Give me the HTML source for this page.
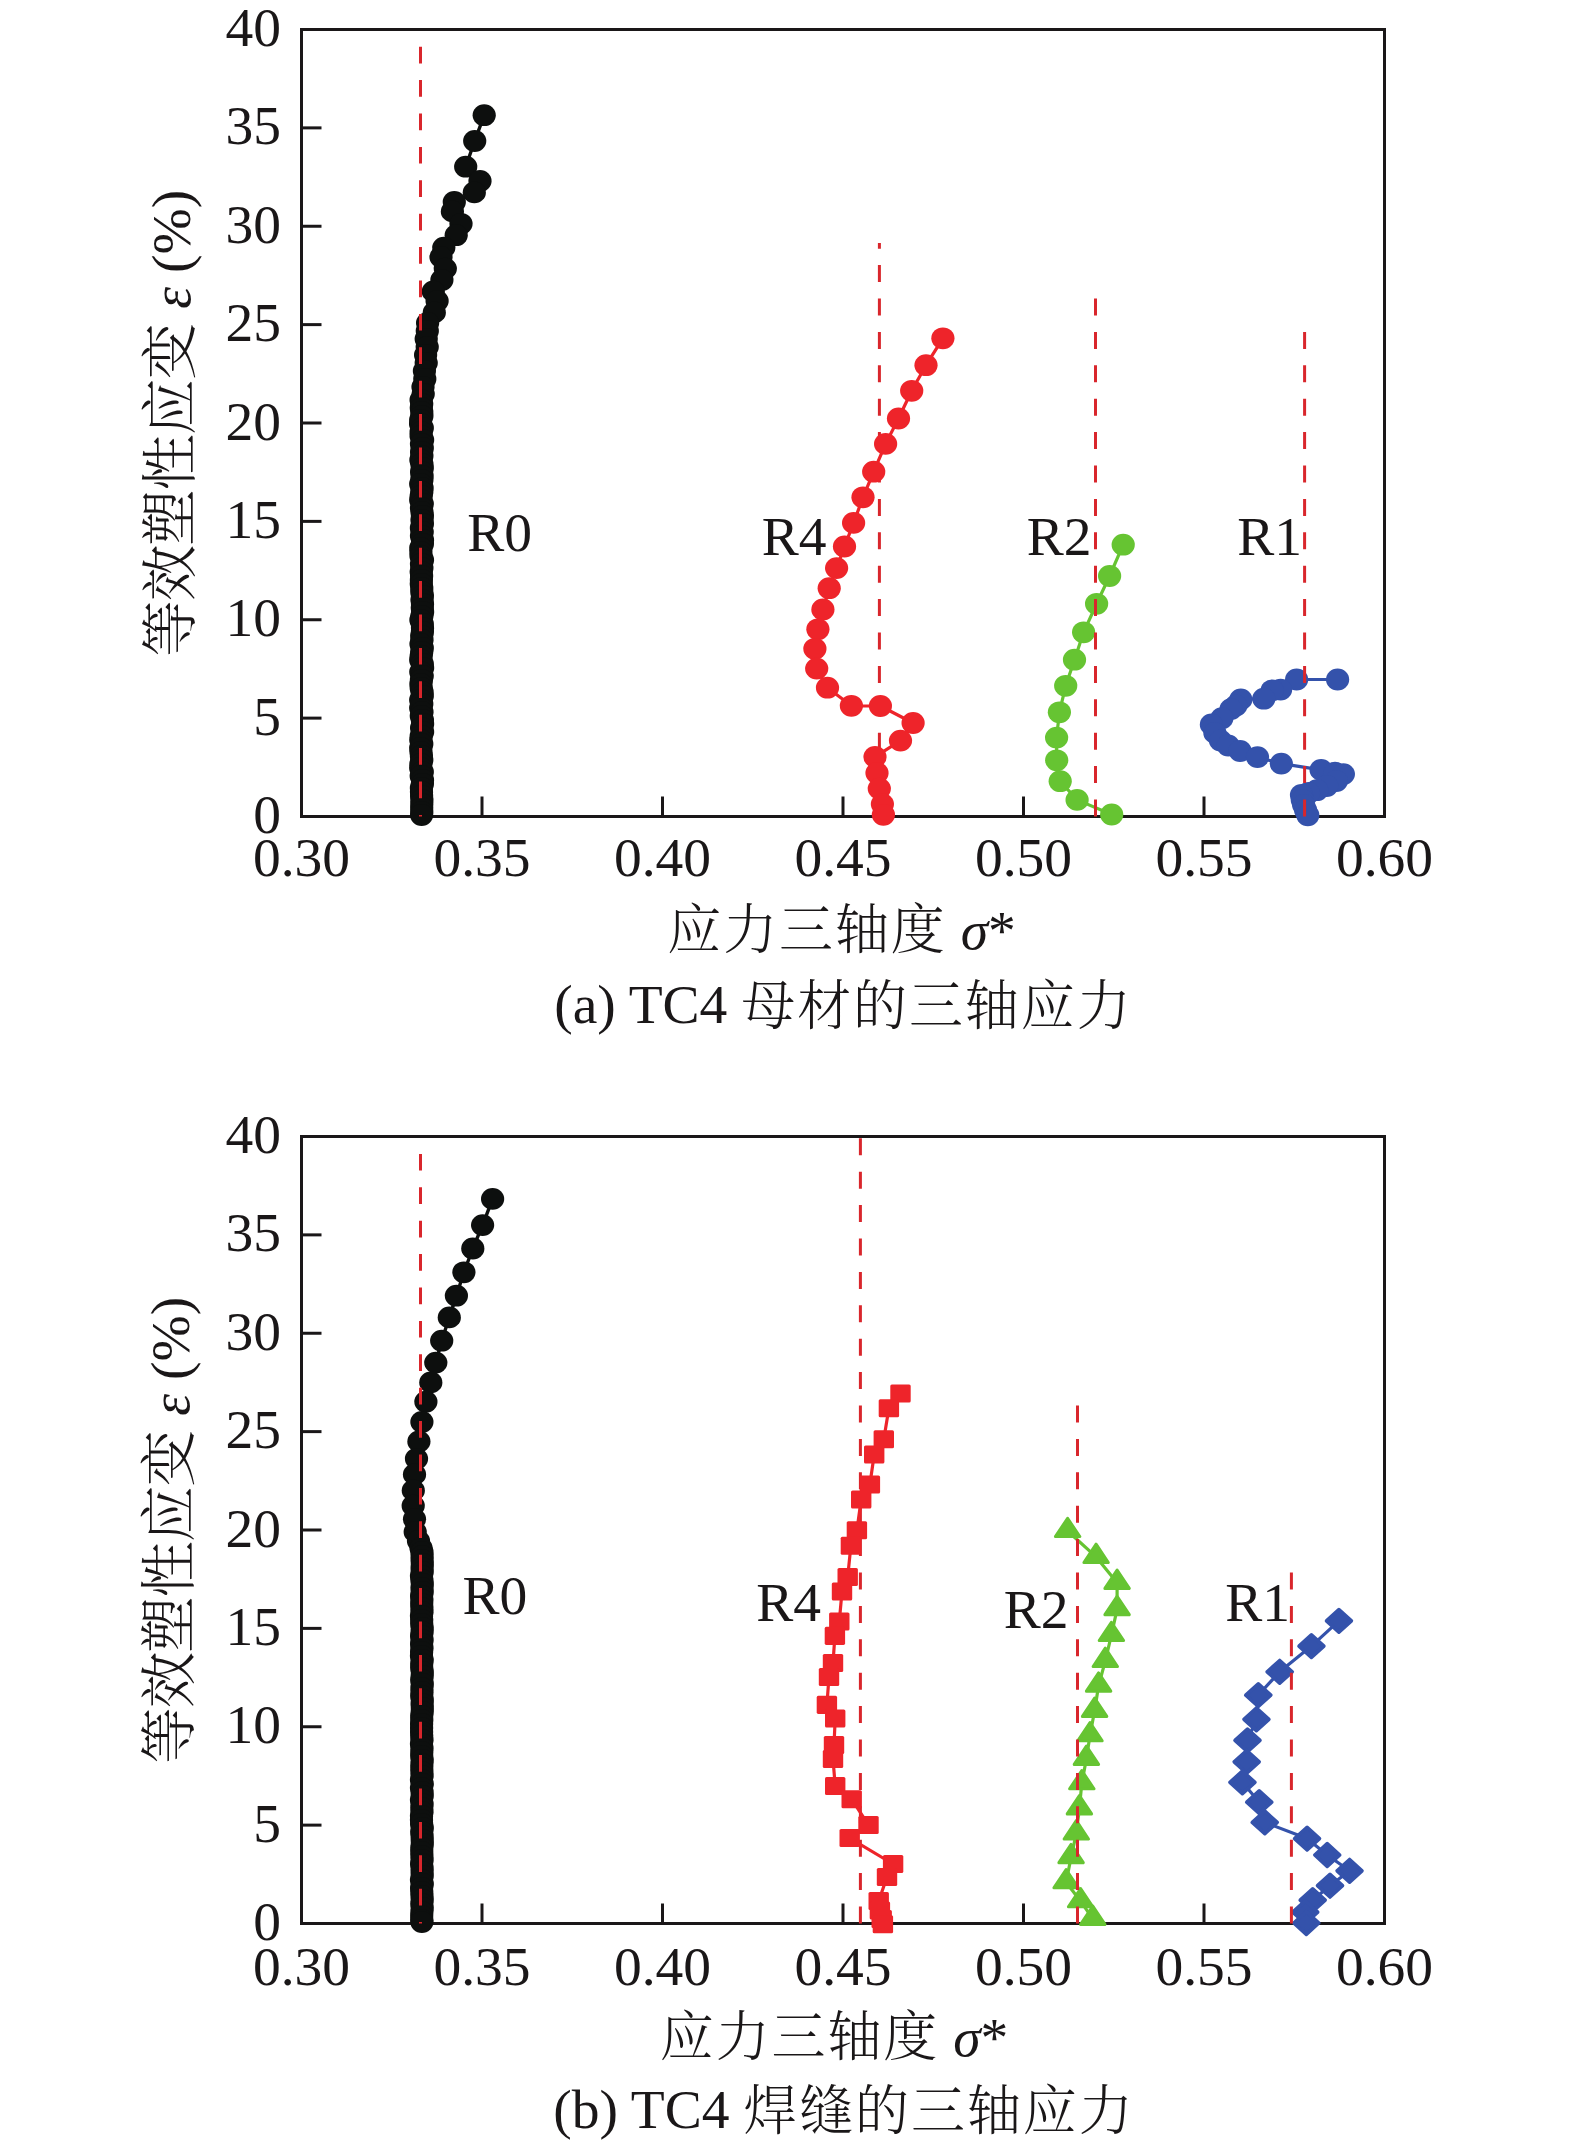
<!DOCTYPE html>
<html lang="zh"><head><meta charset="utf-8"><title>TC4 三轴应力</title>
<style>
html,body{margin:0;padding:0;background:#fff;}
svg{display:block;}
text{font-family:"Liberation Serif","Noto Serif CJK SC",serif;fill:#1a1718;}
.num{font-size:55.5px;}
.lab{font-size:55.5px;}
.rl{font-size:55.5px;}
.cjk{font-weight:300;font-size:54px;letter-spacing:1.9px;}
.cjky{font-size:56.5px;letter-spacing:-1.08px;}
.it{font-style:italic;}
</style></head><body>
<svg width="1575" height="2146" viewBox="0 0 1575 2146">
<rect width="1575" height="2146" fill="#fff"/>
<rect x="301.5" y="29.5" width="1083.0" height="787.0" fill="none" stroke="#1a1718" stroke-width="3"/>
<text x="281" y="833.10" text-anchor="end" class="num">0</text>
<line x1="301.5" y1="718.12" x2="321.5" y2="718.12" stroke="#1a1718" stroke-width="3"/>
<text x="281" y="734.73" text-anchor="end" class="num">5</text>
<line x1="301.5" y1="619.75" x2="321.5" y2="619.75" stroke="#1a1718" stroke-width="3"/>
<text x="281" y="636.35" text-anchor="end" class="num">10</text>
<line x1="301.5" y1="521.38" x2="321.5" y2="521.38" stroke="#1a1718" stroke-width="3"/>
<text x="281" y="537.98" text-anchor="end" class="num">15</text>
<line x1="301.5" y1="423.00" x2="321.5" y2="423.00" stroke="#1a1718" stroke-width="3"/>
<text x="281" y="439.60" text-anchor="end" class="num">20</text>
<line x1="301.5" y1="324.62" x2="321.5" y2="324.62" stroke="#1a1718" stroke-width="3"/>
<text x="281" y="341.23" text-anchor="end" class="num">25</text>
<line x1="301.5" y1="226.25" x2="321.5" y2="226.25" stroke="#1a1718" stroke-width="3"/>
<text x="281" y="242.85" text-anchor="end" class="num">30</text>
<line x1="301.5" y1="127.88" x2="321.5" y2="127.88" stroke="#1a1718" stroke-width="3"/>
<text x="281" y="144.47" text-anchor="end" class="num">35</text>
<text x="281" y="46.10" text-anchor="end" class="num">40</text>
<text x="301.50" y="876.20" text-anchor="middle" class="num">0.30</text>
<line x1="482.00" y1="816.5" x2="482.00" y2="796.5" stroke="#1a1718" stroke-width="3"/>
<text x="482.00" y="876.20" text-anchor="middle" class="num">0.35</text>
<line x1="662.50" y1="816.5" x2="662.50" y2="796.5" stroke="#1a1718" stroke-width="3"/>
<text x="662.50" y="876.20" text-anchor="middle" class="num">0.40</text>
<line x1="843.00" y1="816.5" x2="843.00" y2="796.5" stroke="#1a1718" stroke-width="3"/>
<text x="843.00" y="876.20" text-anchor="middle" class="num">0.45</text>
<line x1="1023.50" y1="816.5" x2="1023.50" y2="796.5" stroke="#1a1718" stroke-width="3"/>
<text x="1023.50" y="876.20" text-anchor="middle" class="num">0.50</text>
<line x1="1204.00" y1="816.5" x2="1204.00" y2="796.5" stroke="#1a1718" stroke-width="3"/>
<text x="1204.00" y="876.20" text-anchor="middle" class="num">0.55</text>
<text x="1384.50" y="876.20" text-anchor="middle" class="num">0.60</text>
<polyline fill="none" stroke="#0d0f0e" stroke-width="3.4" stroke-linejoin="round" points="484.2,115.2 474.7,141.0 465.7,166.7 480.0,181.0 474.3,192.4 454.3,201.9 452.4,211.4 461.0,223.8 456.2,235.2 443.8,247.6 441.0,257.0 445.3,268.6 441.9,280.0 433.3,291.4 437.1,301.0 434.3,312.4 427.6,322.9 427.3,331.0 426.2,339.0 427.2,347.0 425.6,355.0 426.2,363.0 424.4,371.0 424.8,379.0 423.0,387.0 423.2,394.0 421.1,400.0 421.7,404.0 421.3,408.0 421.8,412.0 421.9,416.0 420.7,420.0 420.6,424.0 422.3,428.0 421.1,432.0 421.1,436.0 422.6,440.0 421.5,444.0 422.3,448.0 421.6,452.0 421.9,456.0 420.9,460.0 421.9,464.0 422.3,468.0 421.6,472.0 422.1,476.0 421.9,480.0 420.7,484.0 422.1,488.0 421.8,492.0 421.2,496.0 420.7,500.0 422.3,504.0 421.5,508.0 422.0,512.0 422.4,516.0 422.0,520.0 422.4,524.0 421.4,528.0 422.2,532.0 421.5,536.0 422.5,540.0 422.4,544.0 420.8,548.0 420.9,552.0 421.0,556.0 422.5,560.0 421.5,564.0 421.9,568.0 421.2,572.0 421.6,576.0 421.4,580.0 421.3,584.0 421.8,588.0 421.8,592.0 422.4,596.0 422.0,600.0 422.5,604.0 422.3,608.0 422.6,612.0 421.9,616.0 420.9,620.0 422.3,624.0 422.5,628.0 422.4,632.0 421.7,636.0 422.0,640.0 421.0,644.0 422.3,648.0 421.7,652.0 421.2,656.0 420.7,660.0 422.3,664.0 422.6,668.0 420.8,672.0 422.2,676.0 421.4,680.0 420.9,684.0 421.2,688.0 422.1,692.0 422.3,696.0 420.7,700.0 421.8,704.0 420.7,708.0 422.0,712.0 421.3,716.0 422.4,720.0 422.6,724.0 421.6,728.0 422.6,732.0 421.2,736.0 420.8,740.0 421.8,744.0 420.7,748.0 421.0,752.0 421.4,756.0 421.8,760.0 420.9,764.0 420.7,768.0 422.3,772.0 421.2,776.0 422.5,780.0 422.4,784.0 421.4,788.0 421.5,792.0 421.6,796.0 421.9,800.0 421.8,804.0 421.7,808.0 421.8,812.0 421.6,815.0"/>
<g fill="#0d0f0e"><ellipse cx="484.2" cy="115.2" rx="11.6" ry="10.9"/><ellipse cx="474.7" cy="141.0" rx="11.6" ry="10.9"/><ellipse cx="465.7" cy="166.7" rx="11.6" ry="10.9"/><ellipse cx="480.0" cy="181.0" rx="11.6" ry="10.9"/><ellipse cx="474.3" cy="192.4" rx="11.6" ry="10.9"/><ellipse cx="454.3" cy="201.9" rx="11.6" ry="10.9"/><ellipse cx="452.4" cy="211.4" rx="11.6" ry="10.9"/><ellipse cx="461.0" cy="223.8" rx="11.6" ry="10.9"/><ellipse cx="456.2" cy="235.2" rx="11.6" ry="10.9"/><ellipse cx="443.8" cy="247.6" rx="11.6" ry="10.9"/><ellipse cx="441.0" cy="257.0" rx="11.6" ry="10.9"/><ellipse cx="445.3" cy="268.6" rx="11.6" ry="10.9"/><ellipse cx="441.9" cy="280.0" rx="11.6" ry="10.9"/><ellipse cx="433.3" cy="291.4" rx="11.6" ry="10.9"/><ellipse cx="437.1" cy="301.0" rx="11.6" ry="10.9"/><ellipse cx="434.3" cy="312.4" rx="11.6" ry="10.9"/><ellipse cx="427.6" cy="322.9" rx="11.6" ry="10.9"/><ellipse cx="427.3" cy="331.0" rx="11.6" ry="10.9"/><ellipse cx="426.2" cy="339.0" rx="11.6" ry="10.9"/><ellipse cx="427.2" cy="347.0" rx="11.6" ry="10.9"/><ellipse cx="425.6" cy="355.0" rx="11.6" ry="10.9"/><ellipse cx="426.2" cy="363.0" rx="11.6" ry="10.9"/><ellipse cx="424.4" cy="371.0" rx="11.6" ry="10.9"/><ellipse cx="424.8" cy="379.0" rx="11.6" ry="10.9"/><ellipse cx="423.0" cy="387.0" rx="11.6" ry="10.9"/><ellipse cx="423.2" cy="394.0" rx="11.6" ry="10.9"/><ellipse cx="421.1" cy="400.0" rx="11.6" ry="10.9"/><ellipse cx="421.7" cy="404.0" rx="11.6" ry="10.9"/><ellipse cx="421.3" cy="408.0" rx="11.6" ry="10.9"/><ellipse cx="421.8" cy="412.0" rx="11.6" ry="10.9"/><ellipse cx="421.9" cy="416.0" rx="11.6" ry="10.9"/><ellipse cx="420.7" cy="420.0" rx="11.6" ry="10.9"/><ellipse cx="420.6" cy="424.0" rx="11.6" ry="10.9"/><ellipse cx="422.3" cy="428.0" rx="11.6" ry="10.9"/><ellipse cx="421.1" cy="432.0" rx="11.6" ry="10.9"/><ellipse cx="421.1" cy="436.0" rx="11.6" ry="10.9"/><ellipse cx="422.6" cy="440.0" rx="11.6" ry="10.9"/><ellipse cx="421.5" cy="444.0" rx="11.6" ry="10.9"/><ellipse cx="422.3" cy="448.0" rx="11.6" ry="10.9"/><ellipse cx="421.6" cy="452.0" rx="11.6" ry="10.9"/><ellipse cx="421.9" cy="456.0" rx="11.6" ry="10.9"/><ellipse cx="420.9" cy="460.0" rx="11.6" ry="10.9"/><ellipse cx="421.9" cy="464.0" rx="11.6" ry="10.9"/><ellipse cx="422.3" cy="468.0" rx="11.6" ry="10.9"/><ellipse cx="421.6" cy="472.0" rx="11.6" ry="10.9"/><ellipse cx="422.1" cy="476.0" rx="11.6" ry="10.9"/><ellipse cx="421.9" cy="480.0" rx="11.6" ry="10.9"/><ellipse cx="420.7" cy="484.0" rx="11.6" ry="10.9"/><ellipse cx="422.1" cy="488.0" rx="11.6" ry="10.9"/><ellipse cx="421.8" cy="492.0" rx="11.6" ry="10.9"/><ellipse cx="421.2" cy="496.0" rx="11.6" ry="10.9"/><ellipse cx="420.7" cy="500.0" rx="11.6" ry="10.9"/><ellipse cx="422.3" cy="504.0" rx="11.6" ry="10.9"/><ellipse cx="421.5" cy="508.0" rx="11.6" ry="10.9"/><ellipse cx="422.0" cy="512.0" rx="11.6" ry="10.9"/><ellipse cx="422.4" cy="516.0" rx="11.6" ry="10.9"/><ellipse cx="422.0" cy="520.0" rx="11.6" ry="10.9"/><ellipse cx="422.4" cy="524.0" rx="11.6" ry="10.9"/><ellipse cx="421.4" cy="528.0" rx="11.6" ry="10.9"/><ellipse cx="422.2" cy="532.0" rx="11.6" ry="10.9"/><ellipse cx="421.5" cy="536.0" rx="11.6" ry="10.9"/><ellipse cx="422.5" cy="540.0" rx="11.6" ry="10.9"/><ellipse cx="422.4" cy="544.0" rx="11.6" ry="10.9"/><ellipse cx="420.8" cy="548.0" rx="11.6" ry="10.9"/><ellipse cx="420.9" cy="552.0" rx="11.6" ry="10.9"/><ellipse cx="421.0" cy="556.0" rx="11.6" ry="10.9"/><ellipse cx="422.5" cy="560.0" rx="11.6" ry="10.9"/><ellipse cx="421.5" cy="564.0" rx="11.6" ry="10.9"/><ellipse cx="421.9" cy="568.0" rx="11.6" ry="10.9"/><ellipse cx="421.2" cy="572.0" rx="11.6" ry="10.9"/><ellipse cx="421.6" cy="576.0" rx="11.6" ry="10.9"/><ellipse cx="421.4" cy="580.0" rx="11.6" ry="10.9"/><ellipse cx="421.3" cy="584.0" rx="11.6" ry="10.9"/><ellipse cx="421.8" cy="588.0" rx="11.6" ry="10.9"/><ellipse cx="421.8" cy="592.0" rx="11.6" ry="10.9"/><ellipse cx="422.4" cy="596.0" rx="11.6" ry="10.9"/><ellipse cx="422.0" cy="600.0" rx="11.6" ry="10.9"/><ellipse cx="422.5" cy="604.0" rx="11.6" ry="10.9"/><ellipse cx="422.3" cy="608.0" rx="11.6" ry="10.9"/><ellipse cx="422.6" cy="612.0" rx="11.6" ry="10.9"/><ellipse cx="421.9" cy="616.0" rx="11.6" ry="10.9"/><ellipse cx="420.9" cy="620.0" rx="11.6" ry="10.9"/><ellipse cx="422.3" cy="624.0" rx="11.6" ry="10.9"/><ellipse cx="422.5" cy="628.0" rx="11.6" ry="10.9"/><ellipse cx="422.4" cy="632.0" rx="11.6" ry="10.9"/><ellipse cx="421.7" cy="636.0" rx="11.6" ry="10.9"/><ellipse cx="422.0" cy="640.0" rx="11.6" ry="10.9"/><ellipse cx="421.0" cy="644.0" rx="11.6" ry="10.9"/><ellipse cx="422.3" cy="648.0" rx="11.6" ry="10.9"/><ellipse cx="421.7" cy="652.0" rx="11.6" ry="10.9"/><ellipse cx="421.2" cy="656.0" rx="11.6" ry="10.9"/><ellipse cx="420.7" cy="660.0" rx="11.6" ry="10.9"/><ellipse cx="422.3" cy="664.0" rx="11.6" ry="10.9"/><ellipse cx="422.6" cy="668.0" rx="11.6" ry="10.9"/><ellipse cx="420.8" cy="672.0" rx="11.6" ry="10.9"/><ellipse cx="422.2" cy="676.0" rx="11.6" ry="10.9"/><ellipse cx="421.4" cy="680.0" rx="11.6" ry="10.9"/><ellipse cx="420.9" cy="684.0" rx="11.6" ry="10.9"/><ellipse cx="421.2" cy="688.0" rx="11.6" ry="10.9"/><ellipse cx="422.1" cy="692.0" rx="11.6" ry="10.9"/><ellipse cx="422.3" cy="696.0" rx="11.6" ry="10.9"/><ellipse cx="420.7" cy="700.0" rx="11.6" ry="10.9"/><ellipse cx="421.8" cy="704.0" rx="11.6" ry="10.9"/><ellipse cx="420.7" cy="708.0" rx="11.6" ry="10.9"/><ellipse cx="422.0" cy="712.0" rx="11.6" ry="10.9"/><ellipse cx="421.3" cy="716.0" rx="11.6" ry="10.9"/><ellipse cx="422.4" cy="720.0" rx="11.6" ry="10.9"/><ellipse cx="422.6" cy="724.0" rx="11.6" ry="10.9"/><ellipse cx="421.6" cy="728.0" rx="11.6" ry="10.9"/><ellipse cx="422.6" cy="732.0" rx="11.6" ry="10.9"/><ellipse cx="421.2" cy="736.0" rx="11.6" ry="10.9"/><ellipse cx="420.8" cy="740.0" rx="11.6" ry="10.9"/><ellipse cx="421.8" cy="744.0" rx="11.6" ry="10.9"/><ellipse cx="420.7" cy="748.0" rx="11.6" ry="10.9"/><ellipse cx="421.0" cy="752.0" rx="11.6" ry="10.9"/><ellipse cx="421.4" cy="756.0" rx="11.6" ry="10.9"/><ellipse cx="421.8" cy="760.0" rx="11.6" ry="10.9"/><ellipse cx="420.9" cy="764.0" rx="11.6" ry="10.9"/><ellipse cx="420.7" cy="768.0" rx="11.6" ry="10.9"/><ellipse cx="422.3" cy="772.0" rx="11.6" ry="10.9"/><ellipse cx="421.2" cy="776.0" rx="11.6" ry="10.9"/><ellipse cx="422.5" cy="780.0" rx="11.6" ry="10.9"/><ellipse cx="422.4" cy="784.0" rx="11.6" ry="10.9"/><ellipse cx="421.4" cy="788.0" rx="11.6" ry="10.9"/><ellipse cx="421.5" cy="792.0" rx="11.6" ry="10.9"/><ellipse cx="421.6" cy="796.0" rx="11.6" ry="10.9"/><ellipse cx="421.9" cy="800.0" rx="11.6" ry="10.9"/><ellipse cx="421.8" cy="804.0" rx="11.6" ry="10.9"/><ellipse cx="421.7" cy="808.0" rx="11.6" ry="10.9"/><ellipse cx="421.8" cy="812.0" rx="11.6" ry="10.9"/><ellipse cx="421.6" cy="815.0" rx="11.6" ry="10.9"/></g>
<line x1="879.4" y1="816.5" x2="879.4" y2="242.9" stroke="#d9262c" stroke-width="3" stroke-dasharray="17 16.4"/>
<polyline fill="none" stroke="#ee242a" stroke-width="3.2" stroke-linejoin="round" points="942.9,338.3 926.0,365.2 911.7,390.8 898.5,418.5 885.6,443.9 873.7,471.7 863.0,497.3 853.6,522.9 844.5,546.5 836.6,568.1 829.2,588.2 822.9,609.5 817.9,629.3 814.9,648.8 816.7,668.6 827.5,687.7 851.4,705.8 880.4,706.0 913.1,723.0 900.5,740.6 875.0,756.9 877.0,773.0 879.3,788.6 882.4,804.1 883.4,814.8"/>
<g fill="#ee242a"><ellipse cx="942.9" cy="338.3" rx="11.6" ry="10.9"/><ellipse cx="926.0" cy="365.2" rx="11.6" ry="10.9"/><ellipse cx="911.7" cy="390.8" rx="11.6" ry="10.9"/><ellipse cx="898.5" cy="418.5" rx="11.6" ry="10.9"/><ellipse cx="885.6" cy="443.9" rx="11.6" ry="10.9"/><ellipse cx="873.7" cy="471.7" rx="11.6" ry="10.9"/><ellipse cx="863.0" cy="497.3" rx="11.6" ry="10.9"/><ellipse cx="853.6" cy="522.9" rx="11.6" ry="10.9"/><ellipse cx="844.5" cy="546.5" rx="11.6" ry="10.9"/><ellipse cx="836.6" cy="568.1" rx="11.6" ry="10.9"/><ellipse cx="829.2" cy="588.2" rx="11.6" ry="10.9"/><ellipse cx="822.9" cy="609.5" rx="11.6" ry="10.9"/><ellipse cx="817.9" cy="629.3" rx="11.6" ry="10.9"/><ellipse cx="814.9" cy="648.8" rx="11.6" ry="10.9"/><ellipse cx="816.7" cy="668.6" rx="11.6" ry="10.9"/><ellipse cx="827.5" cy="687.7" rx="11.6" ry="10.9"/><ellipse cx="851.4" cy="705.8" rx="11.6" ry="10.9"/><ellipse cx="880.4" cy="706.0" rx="11.6" ry="10.9"/><ellipse cx="913.1" cy="723.0" rx="11.6" ry="10.9"/><ellipse cx="900.5" cy="740.6" rx="11.6" ry="10.9"/><ellipse cx="875.0" cy="756.9" rx="11.6" ry="10.9"/><ellipse cx="877.0" cy="773.0" rx="11.6" ry="10.9"/><ellipse cx="879.3" cy="788.6" rx="11.6" ry="10.9"/><ellipse cx="882.4" cy="804.1" rx="11.6" ry="10.9"/><ellipse cx="883.4" cy="814.8" rx="11.6" ry="10.9"/></g>
<polyline fill="none" stroke="#66c432" stroke-width="3.2" stroke-linejoin="round" points="1123.2,544.7 1109.6,576.0 1096.6,603.8 1083.6,632.3 1074.5,659.7 1065.7,685.8 1059.4,712.3 1056.6,737.6 1056.7,760.3 1060.2,781.2 1077.1,799.9 1111.7,814.5"/>
<g fill="#66c432"><ellipse cx="1123.2" cy="544.7" rx="11.6" ry="10.9"/><ellipse cx="1109.6" cy="576.0" rx="11.6" ry="10.9"/><ellipse cx="1096.6" cy="603.8" rx="11.6" ry="10.9"/><ellipse cx="1083.6" cy="632.3" rx="11.6" ry="10.9"/><ellipse cx="1074.5" cy="659.7" rx="11.6" ry="10.9"/><ellipse cx="1065.7" cy="685.8" rx="11.6" ry="10.9"/><ellipse cx="1059.4" cy="712.3" rx="11.6" ry="10.9"/><ellipse cx="1056.6" cy="737.6" rx="11.6" ry="10.9"/><ellipse cx="1056.7" cy="760.3" rx="11.6" ry="10.9"/><ellipse cx="1060.2" cy="781.2" rx="11.6" ry="10.9"/><ellipse cx="1077.1" cy="799.9" rx="11.6" ry="10.9"/><ellipse cx="1111.7" cy="814.5" rx="11.6" ry="10.9"/></g>
<polyline fill="none" stroke="#3452ab" stroke-width="3.2" stroke-linejoin="round" points="1337.6,679.5 1296.6,679.5 1280.6,689.6 1272.2,690.3 1263.8,698.7 1240.8,699.4 1235.9,705.6 1231.0,709.1 1221.9,718.2 1211.4,724.5 1214.9,732.9 1220.5,740.6 1228.2,745.5 1240.1,751.0 1257.5,757.1 1281.3,763.6 1321.1,769.9 1335.0,772.7 1343.4,774.1 1336.4,781.1 1326.7,786.0 1316.9,790.2 1308.5,793.0 1301.5,795.0 1302.3,800.0 1303.6,804.8 1305.6,810.2 1307.8,815.3"/>
<g fill="#3452ab"><ellipse cx="1337.6" cy="679.5" rx="11.6" ry="10.9"/><ellipse cx="1296.6" cy="679.5" rx="11.6" ry="10.9"/><ellipse cx="1280.6" cy="689.6" rx="11.6" ry="10.9"/><ellipse cx="1272.2" cy="690.3" rx="11.6" ry="10.9"/><ellipse cx="1263.8" cy="698.7" rx="11.6" ry="10.9"/><ellipse cx="1240.8" cy="699.4" rx="11.6" ry="10.9"/><ellipse cx="1235.9" cy="705.6" rx="11.6" ry="10.9"/><ellipse cx="1231.0" cy="709.1" rx="11.6" ry="10.9"/><ellipse cx="1221.9" cy="718.2" rx="11.6" ry="10.9"/><ellipse cx="1211.4" cy="724.5" rx="11.6" ry="10.9"/><ellipse cx="1214.9" cy="732.9" rx="11.6" ry="10.9"/><ellipse cx="1220.5" cy="740.6" rx="11.6" ry="10.9"/><ellipse cx="1228.2" cy="745.5" rx="11.6" ry="10.9"/><ellipse cx="1240.1" cy="751.0" rx="11.6" ry="10.9"/><ellipse cx="1257.5" cy="757.1" rx="11.6" ry="10.9"/><ellipse cx="1281.3" cy="763.6" rx="11.6" ry="10.9"/><ellipse cx="1321.1" cy="769.9" rx="11.6" ry="10.9"/><ellipse cx="1335.0" cy="772.7" rx="11.6" ry="10.9"/><ellipse cx="1343.4" cy="774.1" rx="11.6" ry="10.9"/><ellipse cx="1336.4" cy="781.1" rx="11.6" ry="10.9"/><ellipse cx="1326.7" cy="786.0" rx="11.6" ry="10.9"/><ellipse cx="1316.9" cy="790.2" rx="11.6" ry="10.9"/><ellipse cx="1308.5" cy="793.0" rx="11.6" ry="10.9"/><ellipse cx="1301.5" cy="795.0" rx="11.6" ry="10.9"/><ellipse cx="1302.3" cy="800.0" rx="11.6" ry="10.9"/><ellipse cx="1303.6" cy="804.8" rx="11.6" ry="10.9"/><ellipse cx="1305.6" cy="810.2" rx="11.6" ry="10.9"/><ellipse cx="1307.8" cy="815.3" rx="11.6" ry="10.9"/></g>
<line x1="420.5" y1="46.7" x2="420.5" y2="816.5" stroke="#d9262c" stroke-width="3" stroke-dasharray="16.7 16.7"/>
<line x1="1095.5" y1="816.5" x2="1095.5" y2="297.8" stroke="#d9262c" stroke-width="3" stroke-dasharray="17 16.4"/>
<line x1="1304.6" y1="816.5" x2="1304.6" y2="331.1" stroke="#d9262c" stroke-width="3" stroke-dasharray="17 16.4"/>
<text x="467.2" y="550.7" class="rl">R0</text>
<text x="761.7" y="555.0" class="rl">R4</text>
<text x="1026.8" y="554.7" class="rl">R2</text>
<text x="1237.2" y="554.7" class="rl">R1</text>
<rect x="301.5" y="1136.5" width="1083.0" height="787.0" fill="none" stroke="#1a1718" stroke-width="3"/>
<text x="281" y="1940.10" text-anchor="end" class="num">0</text>
<line x1="301.5" y1="1825.12" x2="321.5" y2="1825.12" stroke="#1a1718" stroke-width="3"/>
<text x="281" y="1841.72" text-anchor="end" class="num">5</text>
<line x1="301.5" y1="1726.75" x2="321.5" y2="1726.75" stroke="#1a1718" stroke-width="3"/>
<text x="281" y="1743.35" text-anchor="end" class="num">10</text>
<line x1="301.5" y1="1628.38" x2="321.5" y2="1628.38" stroke="#1a1718" stroke-width="3"/>
<text x="281" y="1644.97" text-anchor="end" class="num">15</text>
<line x1="301.5" y1="1530.00" x2="321.5" y2="1530.00" stroke="#1a1718" stroke-width="3"/>
<text x="281" y="1546.60" text-anchor="end" class="num">20</text>
<line x1="301.5" y1="1431.62" x2="321.5" y2="1431.62" stroke="#1a1718" stroke-width="3"/>
<text x="281" y="1448.22" text-anchor="end" class="num">25</text>
<line x1="301.5" y1="1333.25" x2="321.5" y2="1333.25" stroke="#1a1718" stroke-width="3"/>
<text x="281" y="1349.85" text-anchor="end" class="num">30</text>
<line x1="301.5" y1="1234.88" x2="321.5" y2="1234.88" stroke="#1a1718" stroke-width="3"/>
<text x="281" y="1251.47" text-anchor="end" class="num">35</text>
<text x="281" y="1153.10" text-anchor="end" class="num">40</text>
<text x="301.50" y="1985.10" text-anchor="middle" class="num">0.30</text>
<line x1="482.00" y1="1923.5" x2="482.00" y2="1903.5" stroke="#1a1718" stroke-width="3"/>
<text x="482.00" y="1985.10" text-anchor="middle" class="num">0.35</text>
<line x1="662.50" y1="1923.5" x2="662.50" y2="1903.5" stroke="#1a1718" stroke-width="3"/>
<text x="662.50" y="1985.10" text-anchor="middle" class="num">0.40</text>
<line x1="843.00" y1="1923.5" x2="843.00" y2="1903.5" stroke="#1a1718" stroke-width="3"/>
<text x="843.00" y="1985.10" text-anchor="middle" class="num">0.45</text>
<line x1="1023.50" y1="1923.5" x2="1023.50" y2="1903.5" stroke="#1a1718" stroke-width="3"/>
<text x="1023.50" y="1985.10" text-anchor="middle" class="num">0.50</text>
<line x1="1204.00" y1="1923.5" x2="1204.00" y2="1903.5" stroke="#1a1718" stroke-width="3"/>
<text x="1204.00" y="1985.10" text-anchor="middle" class="num">0.55</text>
<text x="1384.50" y="1985.10" text-anchor="middle" class="num">0.60</text>
<polyline fill="none" stroke="#0d0f0e" stroke-width="3.4" stroke-linejoin="round" points="492.6,1198.9 482.6,1225.1 472.8,1248.5 463.9,1272.3 456.4,1295.7 449.3,1317.4 441.7,1340.7 435.8,1362.6 430.8,1382.4 425.9,1401.7 421.9,1422.0 418.9,1441.5 416.5,1458.8 414.5,1474.4 413.3,1490.4 413.2,1505.7 414.5,1519.2 415.2,1531.9 418.5,1541.0 421.0,1548.0 422.0,1552.0 422.1,1556.0 422.1,1560.0 422.3,1564.0 422.1,1568.0 422.2,1572.0 421.5,1576.0 421.9,1580.0 422.3,1584.0 422.0,1588.0 422.2,1592.0 421.6,1596.0 421.9,1600.0 421.7,1604.0 421.9,1608.0 422.0,1612.0 421.5,1616.0 421.7,1620.0 421.7,1624.0 422.2,1628.0 422.1,1632.0 421.6,1636.0 422.1,1640.0 421.6,1644.0 422.0,1648.0 421.6,1652.0 421.5,1656.0 422.2,1660.0 421.7,1664.0 421.7,1668.0 422.3,1672.0 422.2,1676.0 421.7,1680.0 422.3,1684.0 421.9,1688.0 422.0,1692.0 421.7,1696.0 422.3,1700.0 422.1,1704.0 422.3,1708.0 422.2,1712.0 421.7,1716.0 421.8,1720.0 421.6,1724.0 421.6,1728.0 421.6,1732.0 421.7,1736.0 422.0,1740.0 421.5,1744.0 422.0,1748.0 421.8,1752.0 421.7,1756.0 422.2,1760.0 421.9,1764.0 421.8,1768.0 421.9,1772.0 422.1,1776.0 421.5,1780.0 422.3,1784.0 421.5,1788.0 422.1,1792.0 422.2,1796.0 421.5,1800.0 422.1,1804.0 421.8,1808.0 422.0,1812.0 421.5,1816.0 421.5,1820.0 421.6,1824.0 422.3,1828.0 421.7,1832.0 422.1,1836.0 422.2,1840.0 422.3,1844.0 421.8,1848.0 421.8,1852.0 421.9,1856.0 422.1,1860.0 421.6,1864.0 422.1,1868.0 422.1,1872.0 422.2,1876.0 421.5,1880.0 422.3,1884.0 421.6,1888.0 421.8,1892.0 422.0,1896.0 422.2,1900.0 421.8,1904.0 422.2,1908.0 421.9,1912.0 421.7,1916.0 421.8,1920.0 421.9,1922.0"/>
<g fill="#0d0f0e"><ellipse cx="492.6" cy="1198.9" rx="11.6" ry="10.9"/><ellipse cx="482.6" cy="1225.1" rx="11.6" ry="10.9"/><ellipse cx="472.8" cy="1248.5" rx="11.6" ry="10.9"/><ellipse cx="463.9" cy="1272.3" rx="11.6" ry="10.9"/><ellipse cx="456.4" cy="1295.7" rx="11.6" ry="10.9"/><ellipse cx="449.3" cy="1317.4" rx="11.6" ry="10.9"/><ellipse cx="441.7" cy="1340.7" rx="11.6" ry="10.9"/><ellipse cx="435.8" cy="1362.6" rx="11.6" ry="10.9"/><ellipse cx="430.8" cy="1382.4" rx="11.6" ry="10.9"/><ellipse cx="425.9" cy="1401.7" rx="11.6" ry="10.9"/><ellipse cx="421.9" cy="1422.0" rx="11.6" ry="10.9"/><ellipse cx="418.9" cy="1441.5" rx="11.6" ry="10.9"/><ellipse cx="416.5" cy="1458.8" rx="11.6" ry="10.9"/><ellipse cx="414.5" cy="1474.4" rx="11.6" ry="10.9"/><ellipse cx="413.3" cy="1490.4" rx="11.6" ry="10.9"/><ellipse cx="413.2" cy="1505.7" rx="11.6" ry="10.9"/><ellipse cx="414.5" cy="1519.2" rx="11.6" ry="10.9"/><ellipse cx="415.2" cy="1531.9" rx="11.6" ry="10.9"/><ellipse cx="418.5" cy="1541.0" rx="11.6" ry="10.9"/><ellipse cx="421.0" cy="1548.0" rx="11.6" ry="10.9"/><ellipse cx="422.0" cy="1552.0" rx="11.6" ry="10.9"/><ellipse cx="422.1" cy="1556.0" rx="11.6" ry="10.9"/><ellipse cx="422.1" cy="1560.0" rx="11.6" ry="10.9"/><ellipse cx="422.3" cy="1564.0" rx="11.6" ry="10.9"/><ellipse cx="422.1" cy="1568.0" rx="11.6" ry="10.9"/><ellipse cx="422.2" cy="1572.0" rx="11.6" ry="10.9"/><ellipse cx="421.5" cy="1576.0" rx="11.6" ry="10.9"/><ellipse cx="421.9" cy="1580.0" rx="11.6" ry="10.9"/><ellipse cx="422.3" cy="1584.0" rx="11.6" ry="10.9"/><ellipse cx="422.0" cy="1588.0" rx="11.6" ry="10.9"/><ellipse cx="422.2" cy="1592.0" rx="11.6" ry="10.9"/><ellipse cx="421.6" cy="1596.0" rx="11.6" ry="10.9"/><ellipse cx="421.9" cy="1600.0" rx="11.6" ry="10.9"/><ellipse cx="421.7" cy="1604.0" rx="11.6" ry="10.9"/><ellipse cx="421.9" cy="1608.0" rx="11.6" ry="10.9"/><ellipse cx="422.0" cy="1612.0" rx="11.6" ry="10.9"/><ellipse cx="421.5" cy="1616.0" rx="11.6" ry="10.9"/><ellipse cx="421.7" cy="1620.0" rx="11.6" ry="10.9"/><ellipse cx="421.7" cy="1624.0" rx="11.6" ry="10.9"/><ellipse cx="422.2" cy="1628.0" rx="11.6" ry="10.9"/><ellipse cx="422.1" cy="1632.0" rx="11.6" ry="10.9"/><ellipse cx="421.6" cy="1636.0" rx="11.6" ry="10.9"/><ellipse cx="422.1" cy="1640.0" rx="11.6" ry="10.9"/><ellipse cx="421.6" cy="1644.0" rx="11.6" ry="10.9"/><ellipse cx="422.0" cy="1648.0" rx="11.6" ry="10.9"/><ellipse cx="421.6" cy="1652.0" rx="11.6" ry="10.9"/><ellipse cx="421.5" cy="1656.0" rx="11.6" ry="10.9"/><ellipse cx="422.2" cy="1660.0" rx="11.6" ry="10.9"/><ellipse cx="421.7" cy="1664.0" rx="11.6" ry="10.9"/><ellipse cx="421.7" cy="1668.0" rx="11.6" ry="10.9"/><ellipse cx="422.3" cy="1672.0" rx="11.6" ry="10.9"/><ellipse cx="422.2" cy="1676.0" rx="11.6" ry="10.9"/><ellipse cx="421.7" cy="1680.0" rx="11.6" ry="10.9"/><ellipse cx="422.3" cy="1684.0" rx="11.6" ry="10.9"/><ellipse cx="421.9" cy="1688.0" rx="11.6" ry="10.9"/><ellipse cx="422.0" cy="1692.0" rx="11.6" ry="10.9"/><ellipse cx="421.7" cy="1696.0" rx="11.6" ry="10.9"/><ellipse cx="422.3" cy="1700.0" rx="11.6" ry="10.9"/><ellipse cx="422.1" cy="1704.0" rx="11.6" ry="10.9"/><ellipse cx="422.3" cy="1708.0" rx="11.6" ry="10.9"/><ellipse cx="422.2" cy="1712.0" rx="11.6" ry="10.9"/><ellipse cx="421.7" cy="1716.0" rx="11.6" ry="10.9"/><ellipse cx="421.8" cy="1720.0" rx="11.6" ry="10.9"/><ellipse cx="421.6" cy="1724.0" rx="11.6" ry="10.9"/><ellipse cx="421.6" cy="1728.0" rx="11.6" ry="10.9"/><ellipse cx="421.6" cy="1732.0" rx="11.6" ry="10.9"/><ellipse cx="421.7" cy="1736.0" rx="11.6" ry="10.9"/><ellipse cx="422.0" cy="1740.0" rx="11.6" ry="10.9"/><ellipse cx="421.5" cy="1744.0" rx="11.6" ry="10.9"/><ellipse cx="422.0" cy="1748.0" rx="11.6" ry="10.9"/><ellipse cx="421.8" cy="1752.0" rx="11.6" ry="10.9"/><ellipse cx="421.7" cy="1756.0" rx="11.6" ry="10.9"/><ellipse cx="422.2" cy="1760.0" rx="11.6" ry="10.9"/><ellipse cx="421.9" cy="1764.0" rx="11.6" ry="10.9"/><ellipse cx="421.8" cy="1768.0" rx="11.6" ry="10.9"/><ellipse cx="421.9" cy="1772.0" rx="11.6" ry="10.9"/><ellipse cx="422.1" cy="1776.0" rx="11.6" ry="10.9"/><ellipse cx="421.5" cy="1780.0" rx="11.6" ry="10.9"/><ellipse cx="422.3" cy="1784.0" rx="11.6" ry="10.9"/><ellipse cx="421.5" cy="1788.0" rx="11.6" ry="10.9"/><ellipse cx="422.1" cy="1792.0" rx="11.6" ry="10.9"/><ellipse cx="422.2" cy="1796.0" rx="11.6" ry="10.9"/><ellipse cx="421.5" cy="1800.0" rx="11.6" ry="10.9"/><ellipse cx="422.1" cy="1804.0" rx="11.6" ry="10.9"/><ellipse cx="421.8" cy="1808.0" rx="11.6" ry="10.9"/><ellipse cx="422.0" cy="1812.0" rx="11.6" ry="10.9"/><ellipse cx="421.5" cy="1816.0" rx="11.6" ry="10.9"/><ellipse cx="421.5" cy="1820.0" rx="11.6" ry="10.9"/><ellipse cx="421.6" cy="1824.0" rx="11.6" ry="10.9"/><ellipse cx="422.3" cy="1828.0" rx="11.6" ry="10.9"/><ellipse cx="421.7" cy="1832.0" rx="11.6" ry="10.9"/><ellipse cx="422.1" cy="1836.0" rx="11.6" ry="10.9"/><ellipse cx="422.2" cy="1840.0" rx="11.6" ry="10.9"/><ellipse cx="422.3" cy="1844.0" rx="11.6" ry="10.9"/><ellipse cx="421.8" cy="1848.0" rx="11.6" ry="10.9"/><ellipse cx="421.8" cy="1852.0" rx="11.6" ry="10.9"/><ellipse cx="421.9" cy="1856.0" rx="11.6" ry="10.9"/><ellipse cx="422.1" cy="1860.0" rx="11.6" ry="10.9"/><ellipse cx="421.6" cy="1864.0" rx="11.6" ry="10.9"/><ellipse cx="422.1" cy="1868.0" rx="11.6" ry="10.9"/><ellipse cx="422.1" cy="1872.0" rx="11.6" ry="10.9"/><ellipse cx="422.2" cy="1876.0" rx="11.6" ry="10.9"/><ellipse cx="421.5" cy="1880.0" rx="11.6" ry="10.9"/><ellipse cx="422.3" cy="1884.0" rx="11.6" ry="10.9"/><ellipse cx="421.6" cy="1888.0" rx="11.6" ry="10.9"/><ellipse cx="421.8" cy="1892.0" rx="11.6" ry="10.9"/><ellipse cx="422.0" cy="1896.0" rx="11.6" ry="10.9"/><ellipse cx="422.2" cy="1900.0" rx="11.6" ry="10.9"/><ellipse cx="421.8" cy="1904.0" rx="11.6" ry="10.9"/><ellipse cx="422.2" cy="1908.0" rx="11.6" ry="10.9"/><ellipse cx="421.9" cy="1912.0" rx="11.6" ry="10.9"/><ellipse cx="421.7" cy="1916.0" rx="11.6" ry="10.9"/><ellipse cx="421.8" cy="1920.0" rx="11.6" ry="10.9"/><ellipse cx="421.9" cy="1922.0" rx="11.6" ry="10.9"/></g>
<line x1="860.4" y1="1923.5" x2="860.4" y2="1138.0" stroke="#d9262c" stroke-width="3" stroke-dasharray="17 16.4"/>
<polyline fill="none" stroke="#ee242a" stroke-width="3.2" stroke-linejoin="round" points="900.5,1393.4 888.9,1408.3 883.8,1439.2 874.2,1454.4 869.9,1484.4 861.2,1499.4 856.9,1530.3 850.9,1545.7 847.7,1577.0 842.0,1591.6 839.3,1621.4 834.9,1635.8 833.0,1663.1 829.0,1676.9 826.9,1704.8 835.2,1718.5 834.0,1745.1 833.0,1758.9 835.2,1786.0 851.7,1799.2 868.5,1825.1 849.7,1838.1 893.1,1864.0 887.0,1877.0 878.7,1900.9 879.9,1910.5 881.7,1918.9 882.9,1924.2"/>
<g fill="#ee242a"><rect x="890.3" y="1384.4" width="20.4" height="18.1" rx="1.6"/><rect x="878.7" y="1399.2" width="20.4" height="18.1" rx="1.6"/><rect x="873.6" y="1430.2" width="20.4" height="18.1" rx="1.6"/><rect x="864.0" y="1445.4" width="20.4" height="18.1" rx="1.6"/><rect x="859.7" y="1475.4" width="20.4" height="18.1" rx="1.6"/><rect x="851.0" y="1490.4" width="20.4" height="18.1" rx="1.6"/><rect x="846.7" y="1521.2" width="20.4" height="18.1" rx="1.6"/><rect x="840.7" y="1536.7" width="20.4" height="18.1" rx="1.6"/><rect x="837.5" y="1568.0" width="20.4" height="18.1" rx="1.6"/><rect x="831.8" y="1582.5" width="20.4" height="18.1" rx="1.6"/><rect x="829.1" y="1612.4" width="20.4" height="18.1" rx="1.6"/><rect x="824.7" y="1626.8" width="20.4" height="18.1" rx="1.6"/><rect x="822.8" y="1654.0" width="20.4" height="18.1" rx="1.6"/><rect x="818.8" y="1667.9" width="20.4" height="18.1" rx="1.6"/><rect x="816.7" y="1695.8" width="20.4" height="18.1" rx="1.6"/><rect x="825.0" y="1709.5" width="20.4" height="18.1" rx="1.6"/><rect x="823.8" y="1736.0" width="20.4" height="18.1" rx="1.6"/><rect x="822.8" y="1749.9" width="20.4" height="18.1" rx="1.6"/><rect x="825.0" y="1777.0" width="20.4" height="18.1" rx="1.6"/><rect x="841.5" y="1790.2" width="20.4" height="18.1" rx="1.6"/><rect x="858.3" y="1816.0" width="20.4" height="18.1" rx="1.6"/><rect x="839.5" y="1829.0" width="20.4" height="18.1" rx="1.6"/><rect x="882.9" y="1855.0" width="20.4" height="18.1" rx="1.6"/><rect x="876.8" y="1868.0" width="20.4" height="18.1" rx="1.6"/><rect x="868.5" y="1891.9" width="20.4" height="18.1" rx="1.6"/><rect x="869.7" y="1901.5" width="20.4" height="18.1" rx="1.6"/><rect x="871.5" y="1909.9" width="20.4" height="18.1" rx="1.6"/><rect x="872.7" y="1915.2" width="20.4" height="18.1" rx="1.6"/></g>
<polyline fill="none" stroke="#66c432" stroke-width="3.2" stroke-linejoin="round" points="1067.6,1531.0 1096.1,1556.9 1117.1,1582.8 1117.1,1609.1 1111.4,1635.0 1105.3,1660.9 1098.6,1685.6 1094.6,1710.8 1090.0,1735.2 1086.4,1758.8 1081.8,1783.2 1079.4,1808.3 1076.3,1833.4 1071.1,1857.1 1066.1,1882.2 1080.6,1901.2 1092.8,1918.8"/>
<g fill="#66c432" stroke="#66c432" stroke-width="3" stroke-linejoin="round"><path d="M1067.6,1518.3 L1079.8,1536.6 L1055.4,1536.6 Z"/><path d="M1096.1,1544.2 L1108.3,1562.5 L1083.9,1562.5 Z"/><path d="M1117.1,1570.1 L1129.3,1588.4 L1104.9,1588.4 Z"/><path d="M1117.1,1596.4 L1129.3,1614.7 L1104.9,1614.7 Z"/><path d="M1111.4,1622.3 L1123.6,1640.6 L1099.2,1640.6 Z"/><path d="M1105.3,1648.2 L1117.5,1666.5 L1093.1,1666.5 Z"/><path d="M1098.6,1672.9 L1110.8,1691.2 L1086.4,1691.2 Z"/><path d="M1094.6,1698.1 L1106.8,1716.4 L1082.4,1716.4 Z"/><path d="M1090.0,1722.5 L1102.2,1740.8 L1077.8,1740.8 Z"/><path d="M1086.4,1746.1 L1098.6,1764.4 L1074.2,1764.4 Z"/><path d="M1081.8,1770.5 L1094.0,1788.8 L1069.6,1788.8 Z"/><path d="M1079.4,1795.6 L1091.6,1813.9 L1067.2,1813.9 Z"/><path d="M1076.3,1820.7 L1088.5,1839.0 L1064.1,1839.0 Z"/><path d="M1071.1,1844.4 L1083.3,1862.7 L1058.9,1862.7 Z"/><path d="M1066.1,1869.5 L1078.3,1887.8 L1053.9,1887.8 Z"/><path d="M1080.6,1888.5 L1092.8,1906.8 L1068.4,1906.8 Z"/><path d="M1092.8,1906.1 L1105.0,1924.4 L1080.6,1924.4 Z"/></g>
<polyline fill="none" stroke="#3452ab" stroke-width="3.2" stroke-linejoin="round" points="1338.9,1620.9 1311.4,1646.1 1279.7,1671.8 1258.3,1695.1 1256.4,1719.3 1247.5,1740.4 1246.7,1761.8 1242.4,1782.3 1259.2,1802.2 1264.8,1822.4 1307.1,1838.6 1327.2,1855.0 1349.6,1870.8 1330.0,1885.7 1312.7,1900.1 1305.2,1912.2 1306.3,1923.0"/>
<g fill="#3452ab" stroke="#3452ab" stroke-width="3.6" stroke-linejoin="round"><path d="M1338.9,1609.6 L1351.4,1620.9 L1338.9,1632.2 L1326.5,1620.9 Z"/><path d="M1311.4,1634.8 L1323.9,1646.1 L1311.4,1657.4 L1299.0,1646.1 Z"/><path d="M1279.7,1660.5 L1292.2,1671.8 L1279.7,1683.1 L1267.2,1671.8 Z"/><path d="M1258.3,1683.8 L1270.8,1695.1 L1258.3,1706.4 L1245.8,1695.1 Z"/><path d="M1256.4,1708.0 L1268.9,1719.3 L1256.4,1730.6 L1244.0,1719.3 Z"/><path d="M1247.5,1729.1 L1260.0,1740.4 L1247.5,1751.7 L1235.0,1740.4 Z"/><path d="M1246.7,1750.5 L1259.2,1761.8 L1246.7,1773.1 L1234.2,1761.8 Z"/><path d="M1242.4,1771.0 L1254.9,1782.3 L1242.4,1793.6 L1230.0,1782.3 Z"/><path d="M1259.2,1790.9 L1271.7,1802.2 L1259.2,1813.5 L1246.8,1802.2 Z"/><path d="M1264.8,1811.1 L1277.2,1822.4 L1264.8,1833.7 L1252.3,1822.4 Z"/><path d="M1307.1,1827.3 L1319.5,1838.6 L1307.1,1849.9 L1294.6,1838.6 Z"/><path d="M1327.2,1843.7 L1339.7,1855.0 L1327.2,1866.3 L1314.8,1855.0 Z"/><path d="M1349.6,1859.5 L1362.0,1870.8 L1349.6,1882.1 L1337.1,1870.8 Z"/><path d="M1330.0,1874.4 L1342.5,1885.7 L1330.0,1897.0 L1317.5,1885.7 Z"/><path d="M1312.7,1888.8 L1325.2,1900.1 L1312.7,1911.4 L1300.2,1900.1 Z"/><path d="M1305.2,1900.9 L1317.7,1912.2 L1305.2,1923.5 L1292.8,1912.2 Z"/><path d="M1306.3,1911.7 L1318.8,1923.0 L1306.3,1934.3 L1293.8,1923.0 Z"/></g>
<line x1="420.5" y1="1153.9" x2="420.5" y2="1923.5" stroke="#d9262c" stroke-width="3" stroke-dasharray="16.7 16.7"/>
<line x1="1077.5" y1="1923.5" x2="1077.5" y2="1405.3" stroke="#d9262c" stroke-width="3" stroke-dasharray="17 16.4"/>
<line x1="1291.4" y1="1923.5" x2="1291.4" y2="1572.6" stroke="#d9262c" stroke-width="3" stroke-dasharray="17 16.4"/>
<text x="462.5" y="1613.9" class="rl">R0</text>
<text x="756.3000000000001" y="1620.6" class="rl">R4</text>
<text x="1003.7" y="1628.1" class="rl">R2</text>
<text x="1225.2" y="1621.1" class="rl">R1</text>
<text transform="translate(190,423.25) rotate(-90)" text-anchor="middle" class="lab"><tspan class="cjk cjky">等效塑性应变</tspan> <tspan class="it" dx="1.6">ε</tspan> (%)</text>
<text transform="translate(189,1530.25) rotate(-90)" text-anchor="middle" class="lab"><tspan class="cjk cjky">等效塑性应变</tspan> <tspan class="it" dx="1.6">ε</tspan> (%)</text>
<text x="841.5" y="948.7" text-anchor="middle" class="lab"><tspan class="cjk" dy="0.5">应力三轴度</tspan><tspan dy="-0.5"> </tspan><tspan class="it">σ</tspan>*</text>
<text x="834" y="2055.5" text-anchor="middle" class="lab"><tspan class="cjk" dy="0.5">应力三轴度</tspan><tspan dy="-0.5"> </tspan><tspan class="it">σ</tspan>*</text>
<text x="843.4" y="1023" text-anchor="middle" class="lab">(a) TC4 <tspan class="cjk" dy="2.2">母材的三轴应力</tspan></text>
<text x="843.9" y="2127.5" text-anchor="middle" class="lab">(b) TC4 <tspan class="cjk" dy="2.2">焊缝的三轴应力</tspan></text>
</svg></body></html>
